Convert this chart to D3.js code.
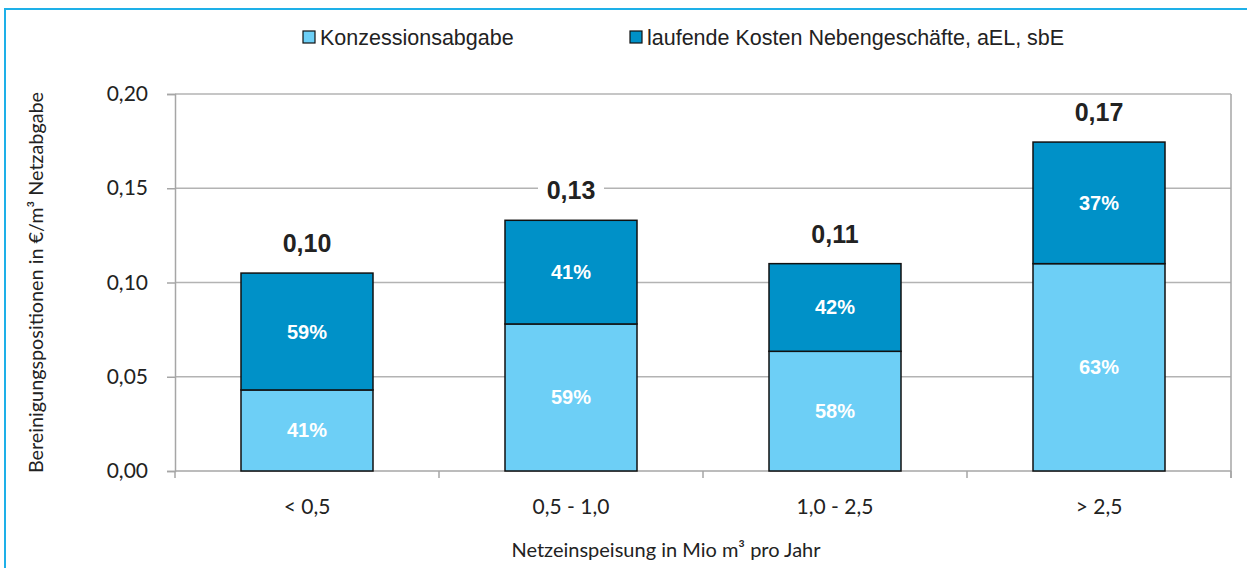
<!DOCTYPE html>
<html>
<head>
<meta charset="utf-8">
<script src="https://cdn.jsdelivr.net/npm/d3@7"></script>
<style>
  body { margin: 0; background: #fff; }
  svg { display: block; }
</style>
</head>
<body>
<svg></svg>
<script>
const categories = ["< 0,5", "0,5 - 1,0", "1,0 - 2,5", "> 2,5"];
const konzession = [0.043, 0.078, 0.0635, 0.110];
const laufende = [0.062, 0.055, 0.0465, 0.0645];
const konzessionPct = ["41%", "59%", "58%", "63%"];
const laufendePct = ["59%", "41%", "42%", "37%"];
const totalLabels = ["0,10", "0,13", "0,11", "0,17"];
const yTicks = [0, 0.05, 0.10, 0.15, 0.20];
const seriesNames = ["Konzessionsabgabe", "laufende Kosten Nebengeschäfte, aEL, sbE"];
const colors = ["#6dcff6", "#0091c8"];

const width = 1248;
const height = 568;
const margin = { top: 94, right: 17, bottom: 97, left: 175 };

const svg = d3.select("svg")
    .attr("width", width)
    .attr("height", height);

// outer frame (only left and top are visible in the crop)
svg.append("path")
    .attr("d", `M5,568 L5,9 L1247,9`)
    .attr("fill", "none")
    .attr("stroke", "#1eb0e8")
    .attr("stroke-width", 2);

const x = d3.scaleBand()
    .domain(categories)
    .range([margin.left, width - margin.right])
    .paddingInner(0.5)
    .paddingOuter(0.25);

const y = d3.scaleLinear()
    .domain([0, 0.20])
    .range([height - margin.bottom, margin.top]);

// gridlines
svg.append("g")
    .selectAll("line")
    .data(yTicks.slice(1))
    .enter().append("line")
    .attr("x1", margin.left)
    .attr("x2", width - margin.right)
    .attr("y1", d => y(d))
    .attr("y2", d => y(d))
    .attr("stroke", "#b3b3b3")
    .attr("stroke-width", 1.5);

// right border of plot area
svg.append("line")
    .attr("x1", width - margin.right).attr("x2", width - margin.right)
    .attr("y1", y(0.20)).attr("y2", y(0) + 7)
    .attr("stroke", "#a6a6a6")
    .attr("stroke-width", 1.5);

// y axis
const yAxis = svg.append("g")
    .attr("transform", `translate(${margin.left},0)`)
    .call(d3.axisLeft(y).tickValues(yTicks).tickSize(8).tickPadding(19)
        .tickFormat(d => d3.format(".2f")(d).replace(".", ",")));
yAxis.select(".domain").attr("stroke", "#a6a6a6").attr("stroke-width", 1.5);
yAxis.selectAll(".tick line").attr("stroke", "#a6a6a6").attr("stroke-width", 1.5);
yAxis.selectAll(".tick text")
    .attr("font-family", "Lato, sans-serif")
    .attr("font-size", 21)
    .attr("fill", "#222");

// x axis line + boundary ticks
const xAxis = svg.append("g");
xAxis.append("line")
    .attr("x1", margin.left).attr("x2", width - margin.right)
    .attr("y1", y(0)).attr("y2", y(0))
    .attr("stroke", "#a6a6a6").attr("stroke-width", 1.5);
const bounds = categories.map(c => x(c) - x.step() * x.paddingInner() / 2)
    .concat([width - margin.right]);
xAxis.selectAll(".bt")
    .data(bounds)
    .enter().append("line")
    .attr("x1", d => d).attr("x2", d => d)
    .attr("y1", y(0)).attr("y2", y(0) + 7)
    .attr("stroke", "#a6a6a6").attr("stroke-width", 1.5);
xAxis.selectAll(".xl")
    .data(categories)
    .enter().append("text")
    .attr("x", d => x(d) + x.bandwidth() / 2)
    .attr("y", 514)
    .attr("text-anchor", "middle")
    .attr("font-family", "Lato, sans-serif")
    .attr("font-size", 21)
    .attr("fill", "#222")
    .text(d => d);

// stacked bars
const rows = categories.map((c, i) => ({ cat: c, k: konzession[i], l: laufende[i], i: i }));
const stack = d3.stack().keys(["k", "l"])(rows);
const pctLabels = [konzessionPct, laufendePct];

const layers = svg.append("g")
    .selectAll("g")
    .data(stack)
    .enter().append("g")
    .attr("fill", (d, i) => colors[i]);

layers.selectAll("rect")
    .data(d => d)
    .enter().append("rect")
    .attr("x", d => x(d.data.cat))
    .attr("width", x.bandwidth())
    .attr("y", d => y(d[1]))
    .attr("height", d => y(d[0]) - y(d[1]))
    .attr("stroke", "#111")
    .attr("stroke-width", 1.5);

layers.each(function(layer, li) {
    d3.select(this).selectAll("text")
        .data(layer)
        .enter().append("text")
        .attr("x", d => x(d.data.cat) + x.bandwidth() / 2)
        .attr("y", d => (y(d[0]) + y(d[1])) / 2 + 7)
        .attr("text-anchor", "middle")
        .attr("font-family", "'Liberation Sans', Arial, sans-serif")
        .attr("font-weight", "bold")
        .attr("font-size", 20)
        .attr("fill", "#fff")
        .text(d => pctLabels[li][d.data.i]);
});

// total labels with white background
const totals = svg.append("g")
    .selectAll("g")
    .data(rows)
    .enter().append("g")
    .attr("transform", d => `translate(${x(d.cat) + x.bandwidth() / 2},${y(d.k + d.l) - 21})`);
totals.append("rect")
    .attr("x", -33).attr("y", -26)
    .attr("width", 66).attr("height", 34)
    .attr("fill", "#fff");
totals.append("text")
    .attr("text-anchor", "middle")
    .attr("font-family", "'Liberation Sans', Arial, sans-serif")
    .attr("font-weight", "bold")
    .attr("font-size", 25)
    .attr("fill", "#222")
    .text(d => totalLabels[d.i]);

// axis titles
svg.append("text")
    .attr("x", 666)
    .attr("y", 557)
    .attr("text-anchor", "middle")
    .attr("font-family", "Lato, sans-serif")
    .attr("font-size", 20)
    .attr("fill", "#222")
    .text("Netzeinspeisung in Mio m³ pro Jahr");

svg.append("text")
    .attr("transform", `translate(43,${(y(0) + y(0.2)) / 2}) rotate(-90)`)
    .attr("text-anchor", "middle")
    .attr("font-family", "Lato, sans-serif")
    .attr("font-size", 19.8)
    .attr("fill", "#222")
    .text("Bereinigungspositionen in €/m³ Netzabgabe");

// legend
const legendX = [303, 630];
const legend = svg.append("g")
    .selectAll("g")
    .data(seriesNames)
    .enter().append("g")
    .attr("transform", (d, i) => `translate(${legendX[i]},31)`);
legend.append("rect")
    .attr("width", 12).attr("height", 12)
    .attr("fill", (d, i) => colors[i])
    .attr("stroke", "#111").attr("stroke-width", 1.2);
legend.append("text")
    .attr("x", 17).attr("y", 14)
    .attr("font-family", "'Liberation Sans', Arial, sans-serif")
    .attr("font-size", 21.5)
    .attr("fill", "#222")
    .text(d => d);
</script>
</body>
</html>
